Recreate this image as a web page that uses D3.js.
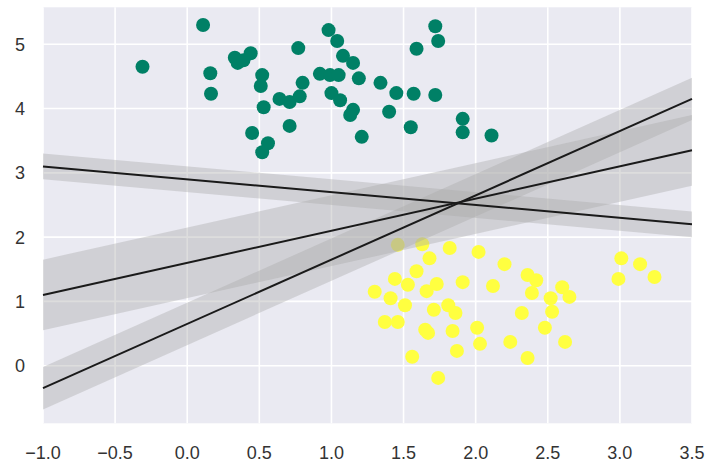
<!DOCTYPE html>
<html><head><meta charset="utf-8">
<script src="https://cdn.jsdelivr.net/npm/d3@7"></script>
<style>body{margin:0;background:#fff}</style>
</head><body>
<svg id="c" width="709" height="466"></svg>
<script>
const greenX = [0.11,-0.31,0.16,0.165,0.33,0.35,0.44,0.39,0.52,0.51,0.53,0.64,0.71,0.78,0.80,0.77,0.71,0.45,0.56,0.52,0.98,1.04,1.08,1.15,1.19,0.92,0.99,1.05,1.00,1.06,1.15,1.13,1.21,1.34,1.45,1.57,1.72,1.40,1.55,1.59,1.72,1.74,1.91,1.91,2.11];
const greenY = [5.30,4.65,4.55,4.23,4.79,4.71,4.86,4.75,4.52,4.35,4.02,4.15,4.10,4.19,4.40,4.94,3.73,3.62,3.46,3.32,5.22,5.05,4.82,4.71,4.47,4.54,4.52,4.52,4.24,4.13,3.98,3.90,3.56,4.40,4.24,4.23,4.21,3.95,3.71,4.93,5.28,5.05,3.84,3.63,3.58];
const yellowX = [1.63,1.46,1.82,2.02,1.68,2.20,1.44,1.59,1.53,1.91,2.12,1.73,1.66,1.30,1.41,1.51,1.71,1.81,1.86,1.37,1.46,1.65,1.67,1.84,2.01,2.03,2.24,1.87,1.56,1.74,2.36,2.42,2.39,2.60,2.65,2.52,2.53,2.32,2.48,2.62,2.36,3.01,3.14,2.99,3.24];
const yellowY = [1.89,1.88,1.83,1.77,1.67,1.58,1.35,1.47,1.26,1.30,1.24,1.27,1.16,1.15,1.05,0.94,0.87,0.94,0.82,0.68,0.68,0.56,0.51,0.54,0.59,0.34,0.37,0.23,0.14,-0.19,1.41,1.33,1.13,1.22,1.07,1.05,0.84,0.82,0.59,0.37,0.12,1.67,1.58,1.35,1.38];
// lines: slope, intercept, half-width of band
const slopes = [1, 0.5, -0.2];
const intercepts = [0.65, 1.6, 2.9];
const widths = [0.33, 0.55, 0.2];
const xTicks = [-1.0,-0.5,0.0,0.5,1.0,1.5,2.0,2.5,3.0,3.5];
const yTicks = [0,1,2,3,4,5];

const svg = d3.select("#c");
const L=43, R=692, T=7.3, B=423.3;
const x = d3.scaleLinear().domain([-1,3.5]).range([L,R]);
const y = d3.scaleLinear().domain([-0.896,5.575]).range([B,T]);

svg.append("rect").attr("x",L).attr("y",T).attr("width",R-L).attr("height",B-T).attr("fill","#EAEAF2");
const g = svg.append("g");
g.selectAll(".gx").data(xTicks).join("line").attr("x1",d=>x(d)).attr("x2",d=>x(d)).attr("y1",T).attr("y2",B).attr("stroke","#fff").attr("stroke-width",1.6);
g.selectAll(".gy").data(yTicks).join("line").attr("y1",d=>y(d)).attr("y2",d=>y(d)).attr("x1",L).attr("x2",R).attr("stroke","#fff").attr("stroke-width",1.6);

const fmtX = d=>d3.format(".1f")(d).replace("-","\u2212");
svg.selectAll(".tx").data(xTicks).join("text").attr("x",d=>x(d)).attr("y",459).attr("text-anchor","middle")
  .attr("font-family","Liberation Sans, Arial, sans-serif").attr("font-size",18).attr("fill","#333").text(fmtX);
svg.selectAll(".ty").data(yTicks).join("text").attr("x",25).attr("y",d=>y(d)+6.5).attr("text-anchor","end")
  .attr("font-family","Liberation Sans, Arial, sans-serif").attr("font-size",18).attr("fill","#333").text(d=>d);

const pts = svg.append("g");
pts.selectAll(".g").data(greenX.map((v,i)=>[v,greenY[i]])).join("circle").attr("cx",d=>x(d[0])).attr("cy",d=>y(d[1])).attr("r",7).attr("fill","#008066");
pts.selectAll(".y").data(yellowX.map((v,i)=>[v,yellowY[i]])).join("circle").attr("cx",d=>x(d[0])).attr("cy",d=>y(d[1])).attr("r",7).attr("fill","#FFFF40");

const xs = [-1, 3.5];
const bands = svg.append("g"), lines = svg.append("g");
slopes.forEach((m,i)=>{
  const b=intercepts[i], d=widths[i];
  const area = d3.area().x(v=>x(v)).y0(v=>y(m*v+b-d)).y1(v=>y(m*v+b+d));
  bands.append("path").datum(xs).attr("d",area).attr("fill","#AAAAAA").attr("fill-opacity",0.4);
  const line = d3.line().x(v=>x(v)).y(v=>y(m*v+b));
  lines.append("path").datum(xs).attr("d",line).attr("stroke","#1a1a1a").attr("stroke-width",2).attr("fill","none");
});
</script>
</body></html>
